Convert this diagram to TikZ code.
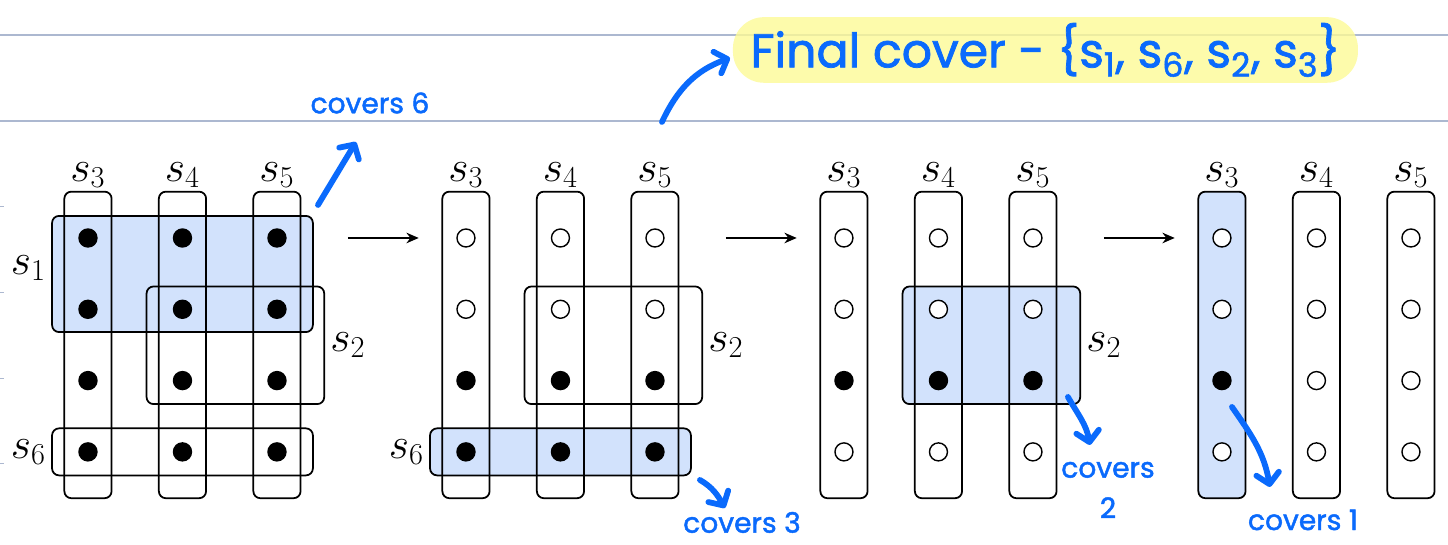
\documentclass[tikz,border=0pt]{standalone}
\usepackage{fontspec}
\newfontfamily\hand[BoldFont=Poppins, BoldFeatures={FakeBold=1.6}]{Poppins}
\usetikzlibrary{arrows.meta}

\definecolor{pickblue}{RGB}{210,226,252}
\definecolor{ink}{RGB}{10,106,252}
\definecolor{marker}{RGB}{252,250,150}
\definecolor{ruled}{RGB}{172,184,208}

\tikzset{
  elem/.style={circle, draw, thick, inner sep=0pt, minimum size=0.36cm},
  setbox/.style={draw, line width=1pt, rounded corners=4pt},
  picked/.style={fill=pickblue, rounded corners=4pt},
  lbl/.style={font=\fontsize{23}{28}\selectfont},
  pen/.style={ink, line width=3.3pt, line cap=round,
    -{Straight Barb[length=6pt, width=13pt, round]}},
  note/.style={text=ink, font=\hand\bfseries\fontsize{16}{23}\selectfont},
}

\begin{document}
\begin{tikzpicture}[x=1.89cm, y=1.426cm, >={Stealth[length=7pt, width=6pt]}]
    \useasboundingbox (-0.931,3.338) rectangle (14.392,-4.306);

    % Renglones de la hoja
    \draw[ruled, line width=0.9pt] (-0.931,2.847) -- (14.392,2.847);
    \draw[ruled, line width=0.9pt] (-0.931,1.641) -- (14.392,1.641);
    \foreach \y in {0.449,-0.757,-1.964,-3.156}
        \draw[ruled] (-0.931,\y) -- (-0.89,\y);

    % Relleno del conjunto elegido en cada paso
    \fill[picked] (-0.38,0.31) rectangle (2.38,-1.32);    % s1
    \fill[picked] (3.62,-2.67) rectangle (6.38,-3.33);    % s6
    \fill[picked] (8.62,-0.68) rectangle (10.5,-2.33);    % s2
    \fill[picked] (11.75,0.65) rectangle (12.25,-3.65);   % s3

    % Columnas s3, s4, s5
    \foreach \p in {0,...,3}
        \foreach \c/\s in {0/3,1/4,2/5} {
            \draw[setbox] ({4*\p+\c-0.25},0.65) rectangle ({4*\p+\c+0.25},-3.65);
            \node[lbl, above, inner sep=2pt] (c\p\s) at ({4*\p+\c},0.65) {$s_{\s}$};
        }

    % Filas s1, s2, s6
    \draw[setbox] (-0.38,0.31) rectangle (2.38,-1.32);
    \node[lbl, left] (r01) at (-0.38,-0.42) {$s_1$};
    \foreach \p in {0,1,2} {
        \draw[setbox] ({4*\p+0.62},-0.68) rectangle ({4*\p+2.5},-2.33);
        \node[lbl, right] (r\p2) at ({4*\p+2.5},-1.5) {$s_2$};
    }
    \foreach \p in {0,1} {
        \draw[setbox] ({4*\p-0.38},-2.67) rectangle ({4*\p+2.38},-3.33);
        \node[lbl, left] (r\p6) at ({4*\p-0.38},-3) {$s_6$};
    }

    % Elementos: negro = sin cubrir, blanco = ya cubierto
    \foreach \p/\lo/\hi/\cc in {0/0/3/2, 1/2/3/2, 2/2/2/2, 3/2/2/0}
        \foreach \c in {0,1,2}
            \foreach \r in {0,...,3} {
                \def\fc{black}
                \ifnum\r<\lo \def\fc{white}\fi
                \ifnum\r>\hi \def\fc{white}\fi
                \ifnum\c>\cc \def\fc{white}\fi
                \node[elem, fill=\fc] (e\p\c\r) at ({4*\p+\c},-\r) {};
            }

    % Flechas entre pasos
    \foreach \p in {0,1,2} {
        \coordinate (go\p) at ({4*\p+2.75},0);
        \coordinate (to\p) at ({4*\p+3.5},0);
        \draw[->, line width=1pt] (go\p) -- (to\p);
    }

    % Notas a mano
    \node[fill=marker, fill opacity=0.8, text opacity=1, rounded corners=0.62cm,
          minimum width=12.5cm, minimum height=1.28cm, note,
          font=\hand\bfseries\fontsize{27}{32}\selectfont] (final) at (10.132,2.637)
        {Final cover - \{s\textsubscript{1}, s\textsubscript{6}, s\textsubscript{2}, s\textsubscript{3}\}};
    \coordinate (pf) at (6.074,1.627);
    \coordinate (qf) at (6.794,2.525);
    \draw[pen] (pf) to[out=65, in=200] (qf);

    \node[note] (n6) at (2.984,1.893) {covers 6};
    \coordinate (p6) at (2.434,0.463);
    \coordinate (q6) at (2.836,1.346);
    \draw[pen] (p6) -- (q6);

    \node[note] (n3) at (6.921,-3.99) {covers 3};
    \coordinate (p3) at (6.476,-3.394);
    \coordinate (q3) at (6.741,-3.787);
    \draw[pen] (p3) to[out=-30, in=120] (q3);

    \node[note, align=center] (n2) at (10.794,-3.534) {covers\\2};
    \coordinate (p2) at (10.37,-2.23);
    \coordinate (q2) at (10.603,-2.903);
    \draw[pen] (p2) to[out=-60, in=100] (q2);

    \node[note] (n1) at (12.857,-3.955) {covers 1};
    \coordinate (p1) at (12.106,-2.370);
    \coordinate (q1) at (12.508,-3.492);
    \draw[pen] (p1) to[out=-55, in=100] (q1);

\end{tikzpicture}
\end{document}
